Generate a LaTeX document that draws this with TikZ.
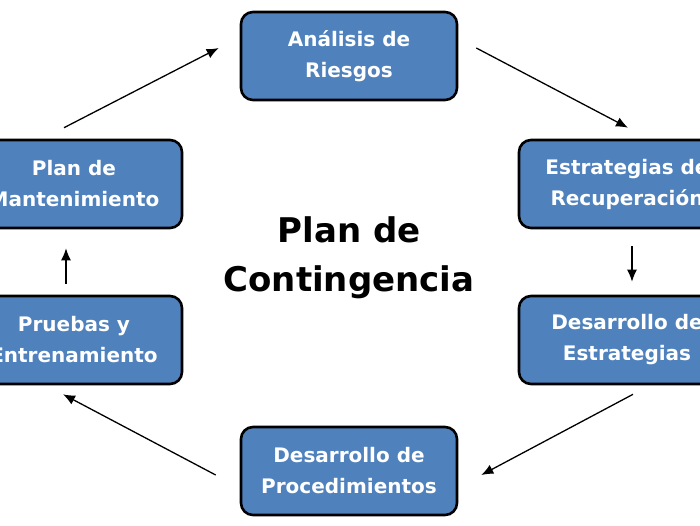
\documentclass[tikz,border=0pt]{standalone}
\usepackage{fontspec}
\setmainfont{DejaVu Sans}
\usetikzlibrary{arrows.meta}
\definecolor{boxblue}{HTML}{4F81BD}
\tikzset{
  stagebox/.style={draw=black, line width=2.6pt, fill=boxblue, rounded corners=12pt,
    minimum width=216pt, minimum height=88pt, inner sep=0pt, align=center,
    text=white, font=\bfseries\fontsize{20}{31}\selectfont},
  flowarrow/.style={draw=black, line width=1.3pt, -{Latex[length=12pt,width=10pt]}},
  titletext/.style={align=center, font=\bfseries\fontsize{34}{49}\selectfont}
}
\begin{document}
\begin{tikzpicture}[x=1pt,y=-1pt]
\path[use as bounding box, fill=white] (0,0) rectangle (700,525);
\clip (0,0) rectangle (700,525);
\node[stagebox] (A) at (349,56) {Análisis de\\Riesgos};
\node[stagebox] (B) at (627,184) {Estrategias de\\Recuperación};
\node[stagebox] (C) at (627,340) {Desarrollo de\\Estrategias};
\node[stagebox] (D) at (349,471) {Desarrollo de\\Procedimientos};
\node[stagebox] (E) at (74,340) {Pruebas y\\Entrenamiento};
\node[stagebox] (F) at (74,184) {Plan de\\Mantenimiento};
\node[titletext] (T) at (349,258) {Plan de\\Contingencia};
\draw[flowarrow] ([xshift=18pt,yshift=8pt]A.east) -- ([xshift=1pt,yshift=11pt]B.north);
\draw[flowarrow] ([xshift=5pt,yshift=-17pt]B.south) -- ([xshift=5pt,yshift=13pt]C.north);
\draw[flowarrow] ([xshift=6pt,yshift=-9pt]C.south) -- ([xshift=23pt,yshift=-4pt]D.east);
\draw[flowarrow] ([xshift=-24pt,yshift=-4pt]D.west) -- ([xshift=-11pt,yshift=-9pt]E.south);
\draw[flowarrow] ([xshift=-8pt,yshift=11pt]E.north) -- ([xshift=-8pt,yshift=-19pt]F.south);
\draw[flowarrow] ([xshift=-10pt,yshift=11pt]F.north) -- ([xshift=-21pt,yshift=8pt]A.west);
\end{tikzpicture}
\end{document}
